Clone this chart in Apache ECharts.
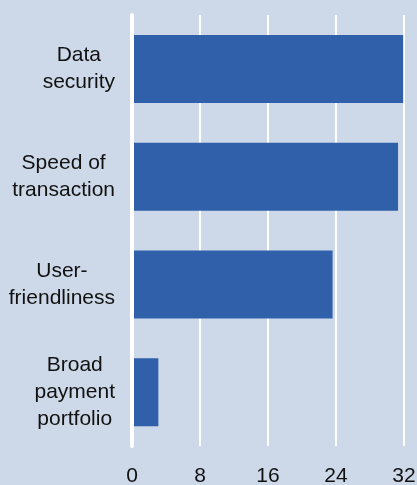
<!DOCTYPE html>
<html>
<head>
<meta charset="utf-8">
<script src="https://cdn.jsdelivr.net/npm/echarts@6/dist/echarts.min.js"></script>
<style>
html,body{margin:0;padding:0;background:#cdd8e8;}
#chart{width:417px;height:485px;}
</style>
</head>
<body>
<div id="chart"></div>
<script>
const categories = ["Data\nsecurity", "Speed of\ntransaction", "User-\nfriendliness", "Broad\npayment\nportfolio"];
const values = [31.9, 31.3, 23.6, 3.1];
const xTicks = [0, 8, 16, 24, 32];

const FONT = 'Liberation Sans, Arial, sans-serif';
const chart = echarts.init(document.getElementById('chart'));
chart.setOption({
  backgroundColor: '#cdd8e8',
  animation: false,
  grid: {left: 132, right: 13, top: 15, height: 431, containLabel: false, outerBoundsMode: 'none'},
  xAxis: {
    type: 'value',
    min: xTicks[0], max: xTicks[xTicks.length - 1], interval: 8,
    axisLine: {show: false},
    axisTick: {show: false},
    splitLine: {show: true, lineStyle: {color: '#ffffff', width: 2}},
    axisLabel: {
      fontFamily: FONT,
      fontSize: 21, color: '#111111', margin: 20,
      formatter: function (v) { return xTicks.indexOf(v) >= 0 ? String(v) : ''; }
    }
  },
  yAxis: {
    type: 'category',
    data: categories,
    inverse: true,
    z: 5,
    axisLine: {show: true, lineStyle: {color: '#ffffff', width: 4, cap: 'round'}},
    axisTick: {show: false},
    splitLine: {show: false},
    axisLabel: {
      fontFamily: FONT,
      fontSize: 21, lineHeight: 27, color: '#111111', margin: 17, align: 'right',
      formatter: function (v) {
        return v.split('\n').map(function (l) { return '{c|' + l + '}'; }).join('\n');
      },
      rich: {
        c: {align: 'center', fontFamily: FONT, fontSize: 21, lineHeight: 27, color: '#111111'}
      }
    }
  },
  series: [{
    type: 'bar',
    data: values,
    barWidth: 68,
    itemStyle: {color: '#3160aa'}
  }]
});
</script>
</body>
</html>
